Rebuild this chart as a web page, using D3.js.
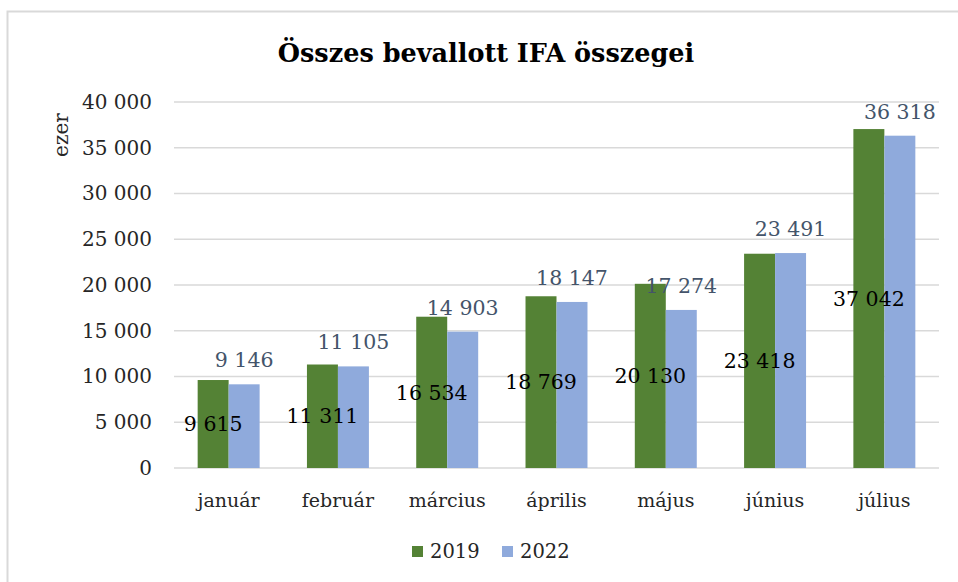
<!DOCTYPE html>
<html>
<head>
<meta charset="utf-8">
<script src="https://cdn.jsdelivr.net/npm/d3@7"></script>
<style>
  body { margin: 0; background: #fff; }
  svg text { font-family: "DejaVu Serif", serif; }
</style>
</head>
<body>
<div id="chart"></div>
<script>
// data (ezer)
var months = ["január", "február", "március", "április", "május", "június", "július"];
var years = ["2019", "2022"];
var values2019 = [9615, 11311, 16534, 18769, 20130, 23418, 37042];
var values2022 = [9146, 11105, 14903, 18147, 17274, 23491, 36318];
var yTicks = [0, 5000, 10000, 15000, 20000, 25000, 30000, 35000, 40000];

var colors = {"2019": "#548235", "2022": "#8faadc"};

var W = 958, H = 582;
var plot = {left: 174, right: 939, top: 102, bottom: 468};

var svg = d3.select("#chart")
  .append("svg")
    .attr("width", W)
    .attr("height", H);

// outer chart border (only top and left visible in the crop)
svg.append("rect")
  .attr("x", 7.5).attr("y", 11.5)
  .attr("width", 1000).attr("height", 700)
  .attr("fill", "none")
  .attr("stroke", "#d9d9d9")
  .attr("stroke-width", 2);

var hu = d3.formatLocale({decimal: ",", thousands: " ", grouping: [3], currency: ["", ""]});
var fmt = hu.format(",d");

var rows = months.map(function(m, i) {
  return {month: m, "2019": values2019[i], "2022": values2022[i]};
});

var x0 = d3.scaleBand()
  .domain(months)
  .range([plot.left, plot.right])
  .paddingInner(0.433)
  .paddingOuter(0.2165);

var x1 = d3.scaleBand()
  .domain(years)
  .range([0, x0.bandwidth()]);

var y = d3.scaleLinear()
  .domain([0, 40000])
  .range([plot.bottom, plot.top]);

// gridlines
svg.append("g")
  .selectAll("line")
  .data(yTicks)
  .join("line")
    .attr("x1", plot.left)
    .attr("x2", plot.right)
    .attr("y1", function(d) { return y(d); })
    .attr("y2", function(d) { return y(d); })
    .attr("stroke", "#d9d9d9")
    .attr("stroke-width", 1.5);

// y axis labels
var yAxis = svg.append("g")
  .attr("transform", "translate(" + plot.left + ",0)")
  .call(d3.axisLeft(y).tickValues(yTicks).tickFormat(fmt).tickSize(0).tickPadding(22));
yAxis.select(".domain").remove();
yAxis.attr("font-family", null).attr("font-size", null);
yAxis.selectAll("text")
  .style("font-size", "20px")
  .attr("fill", "#262626");

svg.append("text")
  .attr("transform", "translate(61,135) rotate(-90)")
  .attr("text-anchor", "middle")
  .attr("dy", "0.35em")
  .style("font-size", "20px")
  .attr("fill", "#262626")
  .text("ezer");

// bars
var groups = svg.append("g")
  .selectAll("g")
  .data(rows)
  .join("g")
    .attr("transform", function(d) { return "translate(" + x0(d.month) + ",0)"; });

groups.selectAll("rect")
  .data(function(d) { return years.map(function(k) { return {key: k, value: d[k]}; }); })
  .join("rect")
    .attr("x", function(d) { return x1(d.key); })
    .attr("y", function(d) { return y(d.value); })
    .attr("width", x1.bandwidth())
    .attr("height", function(d) { return y(0) - y(d.value); })
    .attr("fill", function(d) { return colors[d.key]; });

// 2019 labels, centred inside the bar
groups.append("text")
  .attr("x", x1("2019") + x1.bandwidth() / 2)
  .attr("y", function(d) { return (y(d["2019"]) + y(0)) / 2; })
  .attr("dy", "0.35em")
  .attr("text-anchor", "middle")
  .style("font-size", "20.5px")
  .attr("fill", "#000")
  .text(function(d) { return fmt(d["2019"]); });

// 2022 labels, above the bar
groups.append("text")
  .attr("x", x1("2022") + x1.bandwidth() / 2)
  .attr("y", function(d) { return y(d["2022"]) - 17; })
  .attr("text-anchor", "middle")
  .style("font-size", "20.5px")
  .attr("fill", "#44546a")
  .text(function(d) { return fmt(d["2022"]); });

// x axis labels
svg.append("g")
  .selectAll("text")
  .data(months)
  .join("text")
    .attr("x", function(d) { return x0(d) + x0.bandwidth() / 2; })
    .attr("y", 500)
    .attr("dy", "0.35em")
    .attr("text-anchor", "middle")
    .style("font-size", "19px")
    .attr("fill", "#262626")
    .text(function(d) { return d; });

// title
svg.append("text")
  .attr("x", 486)
  .attr("y", 53)
  .attr("dy", "0.35em")
  .attr("text-anchor", "middle")
  .style("font-size", "25.5px")
  .style("font-weight", "bold")
  .attr("fill", "#000")
  .text("Összes bevallott IFA összegei");

// legend
var legend = svg.append("g")
  .selectAll("g")
  .data(years)
  .join("g")
    .attr("transform", function(d, i) { return "translate(" + (412 + i * 90) + ",551)"; });
legend.append("rect")
  .attr("x", 0).attr("y", -5)
  .attr("width", 11).attr("height", 11)
  .attr("fill", function(d) { return colors[d]; });
legend.append("text")
  .attr("x", 18)
  .attr("dy", "0.35em")
  .style("font-size", "19.5px")
  .attr("fill", "#262626")
  .text(function(d) { return d; });
</script>
</body>
</html>
